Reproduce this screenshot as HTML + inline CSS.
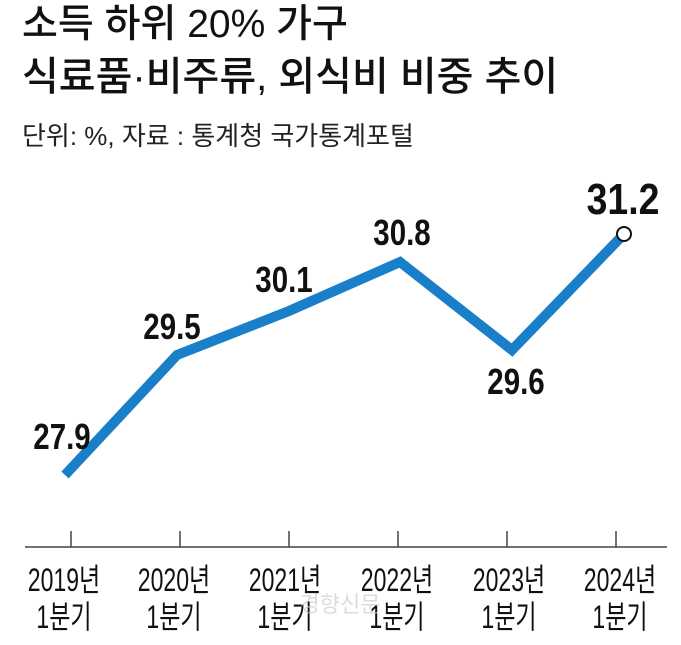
<!DOCTYPE html>
<html><head><meta charset="utf-8"><style>
html,body{margin:0;padding:0;background:#fff;}
svg{display:block}
text{font-family:"Liberation Sans","Noto Sans CJK KR",sans-serif;}
</style></head><body>
<svg width="681" height="645" viewBox="0 0 681 645">
<text x="22" y="37" font-size="39" fill="#111" font-weight="500">소득 하위 20% 가구</text>
<text x="22" y="90" font-size="40" fill="#111" font-weight="500">식료품·비주류, 외식비 비중 추이</text>
<text x="22" y="145" font-size="26" fill="#222">단위: %, 자료 : 통계청 국가통계포털</text>
<line x1="25" y1="547" x2="667" y2="547" stroke="#444" stroke-width="1.5"/>
<g stroke="#444" stroke-width="1.5">
<line x1="71" y1="531" x2="71" y2="547"/><line x1="180" y1="531" x2="180" y2="547"/>
<line x1="289" y1="531" x2="289" y2="547"/><line x1="398" y1="531" x2="398" y2="547"/>
<line x1="507" y1="531" x2="507" y2="547"/><line x1="616" y1="531" x2="616" y2="547"/>
</g>
<polyline points="65,475 177,355 289,311 400,262 512,350 624,234" fill="none" stroke="#1a7fc9" stroke-width="10" stroke-linejoin="miter"/>
<circle cx="624" cy="234" r="7" fill="#fff" stroke="#111" stroke-width="2"/>
<g font-size="36" fill="#111" text-anchor="middle" font-weight="bold">
<text transform="translate(62,449) scale(0.82,1)">27.9</text>
<text transform="translate(172,339) scale(0.82,1)">29.5</text>
<text transform="translate(284,292) scale(0.82,1)">30.1</text>
<text transform="translate(402,245) scale(0.82,1)">30.8</text>
<text transform="translate(516,394) scale(0.82,1)">29.6</text>
<text transform="translate(623,214) scale(0.85,1)" font-size="44">31.2</text>
</g>
<g font-size="32" fill="#111" text-anchor="middle">
<text transform="translate(64,591) scale(0.72,1)">2019년</text>
<text transform="translate(174,591) scale(0.72,1)">2020년</text>
<text transform="translate(285,591) scale(0.72,1)">2021년</text>
<text transform="translate(397,591) scale(0.72,1)">2022년</text>
<text transform="translate(509,591) scale(0.72,1)">2023년</text>
<text transform="translate(620,591) scale(0.72,1)">2024년</text>
<text transform="translate(64,628) scale(0.72,1)">1분기</text>
<text transform="translate(174,628) scale(0.72,1)">1분기</text>
<text transform="translate(285,628) scale(0.72,1)">1분기</text>
<text transform="translate(397,628) scale(0.72,1)">1분기</text>
<text transform="translate(509,628) scale(0.72,1)">1분기</text>
<text transform="translate(620,628) scale(0.72,1)">1분기</text>
</g>
<text x="340" y="612" font-size="22" fill="#ccc" text-anchor="middle" opacity="0.7">경향신문</text>
</svg>
</body></html>
